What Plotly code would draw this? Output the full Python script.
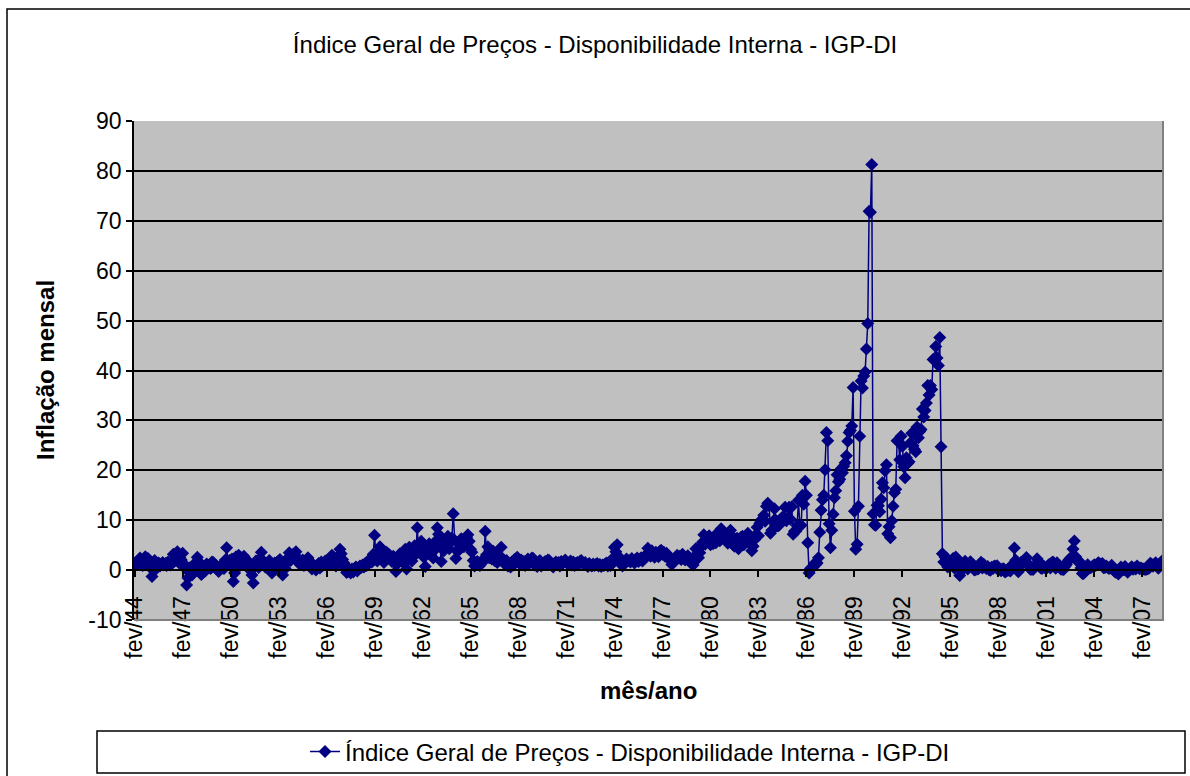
import plotly.graph_objects as go

# ---------------- data (monthly IGP-DI, % per month) ----------------
month_abbr = ["jan", "fev", "mar", "abr", "mai", "jun", "jul", "ago", "set", "out", "nov", "dez"]
first_year, first_month = 1944, 2   # fev/44
last_year, last_month = 2008, 5     # mai/08

v1944 = [1.3, 1.5, 1.2, 1.8, 2.4, 1.6, 0.9, 2.1, 2.7, 1.4, 2.3]  # fev-dez
v1945 = [1.8, 0.4, -1.3, 0.6, 1.9, 0.2, 1.1, 1.4, 0.8, 1.2, 1.5, 1.0]
v1946 = [1.3, 0.9, 1.6, 1.2, 1.0, 1.4, 3.2, 1.8, 2.6, 3.7, 1.5, 2.4]
v1947 = [2.0, 3.4, 1.2, 0.3, -3.0, -1.6, 0.4, -0.2, -1.0, 0.8, 1.3, 0.2]
v1948 = [2.6, 1.7, 0.3, -0.9, -0.6, 0.1, -0.2, 1.2, 0.5, 0.9, 0.3, 1.6]
v1949 = [1.5, 0.6, 0.9, 0.2, -0.3, 0.7, 0.4, 1.1, 0.3, 2.0, 4.5, 1.3]
v1950 = [1.9, 0.8, 2.2, -2.3, -0.6, 2.7, 1.4, 3.0, 0.9, 2.4, 1.2, 2.8]
v1951 = [2.2, 1.0, 0.4, 1.5, 0.8, -1.0, -2.6, 0.6, 1.8, 1.2, 0.5, 2.3]
v1952 = [3.6, 1.1, 1.7, 0.6, 0.9, 1.3, 1.9, 0.7, -0.6, 0.4, 1.4, 0.8]
v1953 = [1.6, 0.5, 2.1, 0.9, -1.0, 1.2, 0.3, 1.5, 2.4, 3.5, 1.9, 2.6]
v1954 = [3.2, 2.4, 3.7, 1.8, 2.2, 1.1, 1.6, 2.0, 0.9, 1.3, 1.7, 2.5]
v1955 = [1.4, 0.8, 0.2, 1.1, 0.5, 0.0, 0.7, 1.3, 0.4, 1.6, 0.9, 1.2]
v1956 = [1.8, 0.9, 1.5, 2.2, 1.2, 3.0, 1.6, 2.4, 0.8, 1.9, 2.7, 4.2]
v1957 = [3.3, 2.1, 1.4, 0.5, -0.5, -0.3, 0.1, -0.6, 0.2, -0.4, 0.3, 0.6]
v1958 = [-0.2, 0.4, 0.8, 0.5, 1.0, 0.6, 1.3, 0.9, 1.8, 1.4, 2.1, 1.6]
v1959 = [3.2, 7.0, 2.6, 1.8, 3.4, 4.7, 2.2, 3.8, 1.5, 2.9, 3.6, 2.4]
v1960 = [3.1, 2.3, 1.7, 2.8, 1.4, -0.3, 1.2, 2.5, 3.3, 2.0, 1.6, 3.8]
v1961 = [4.2, 0.2, 2.1, 4.6, 3.0, 1.8, 2.7, 4.9, 3.4, 8.5, 4.0, 5.2]
v1962 = [5.8, 3.5, 2.6, 0.7, 3.9, 4.4, 5.3, 3.1, 4.6, 2.4, 5.6, 4.3]
v1963 = [8.5, 7.2, 5.1, 1.7, 4.8, 3.9, 6.1, 5.4, 6.8, 4.3, 5.7, 6.4]
v1964 = [11.3, 6.0, 2.3, 3.8, 5.5, 4.2, 6.3, 5.1, 4.7, 5.9, 6.6, 7.1]
v1965 = [5.8, 4.2, 3.6, 1.9, 0.8, 1.2, 1.7, 1.4, 0.9, 1.6, 2.0, 1.8]
v1966 = [7.8, 3.1, 4.7, 2.5, 3.4, 2.2, 3.8, 1.9, 2.6, 1.5, 1.9, 2.7]
v1967 = [4.6, 2.3, 1.4, 1.1, 1.9, 0.8, 1.2, 0.6, 1.6, 1.0, 2.1, 1.5]
v1968 = [2.6, 1.8, 1.2, 2.0, 1.4, 1.7, 0.9, 1.5, 2.2, 1.3, 1.8, 2.4]
v1969 = [2.3, 1.0, 1.6, 0.7, 1.2, 1.9, 0.8, 1.1, 1.4, 1.7, 1.2, 2.0]
v1970 = [1.9, 1.4, 0.9, 0.6, 1.3, 1.6, 1.1, 1.5, 0.8, 1.7, 1.3, 1.6]
v1971 = [2.0, 1.5, 1.2, 1.4, 1.8, 1.0, 1.6, 0.9, 1.3, 1.5, 1.1, 1.7]
v1972 = [1.9, 1.4, 1.2, 1.5, 1.1, 0.7, 1.3, 1.0, 0.8, 1.2, 0.9, 1.1]
v1973 = [1.3, 0.8, 1.1, 0.7, 1.0, 0.9, 1.2, 1.4, 0.8, 1.1, 0.9, 1.3]
v1974 = [2.4, 4.6, 3.7, 5.1, 2.8, 1.6, 1.4, 0.8, 1.7, 1.5, 2.2, 1.9]
v1975 = [1.8, 1.6, 2.3, 1.9, 1.4, 2.1, 2.4, 1.7, 2.0, 2.5, 1.8, 2.2]
v1976 = [2.9, 3.1, 4.4, 3.5, 2.8, 3.9, 3.3, 2.6, 3.6, 3.0, 2.7, 3.8]
v1977 = [4.0, 3.2, 3.6, 2.8, 3.4, 2.9, 2.3, 1.9, 1.1, 1.6, 2.2, 2.0]
v1978 = [3.0, 2.4, 2.8, 2.1, 3.2, 2.7, 2.0, 2.5, 2.9, 2.3, 1.8, 1.2]
v1979 = [1.0, 2.8, 4.3, 3.1, 2.5, 3.5, 4.8, 5.6, 7.1, 5.2, 5.8, 6.4]
v1980 = [6.9, 5.1, 6.2, 5.3, 5.7, 5.5, 7.4, 6.3, 5.9, 8.3, 6.7, 6.5]
v1981 = [7.2, 6.3, 5.4, 6.5, 8.0, 6.9, 5.1, 4.8, 5.6, 6.4, 4.3, 5.9]
v1982 = [6.6, 6.8, 5.1, 5.7, 6.3, 7.4, 6.0, 5.2, 3.9, 4.8, 6.1, 7.1]
v1983 = [8.6, 6.9, 9.4, 9.7, 10.3, 11.0, 9.8, 12.8, 13.4, 12.9, 7.4, 8.0]
v1984 = [9.8, 12.3, 10.0, 8.9, 8.9, 9.2, 10.3, 10.6, 10.5, 12.6, 9.9, 10.5]
v1985 = [12.6, 10.2, 12.7, 7.2, 7.8, 7.8, 8.9, 14.0, 9.1, 9.0, 15.0, 13.2]
v1986 = [17.8, 15.0, 5.5, -0.6, 0.3, 0.5, 0.6, 1.3, 1.1, 1.4, 2.5, 7.6]
v1987 = [12.0, 14.1, 15.0, 20.1, 27.6, 25.9, 9.3, 4.5, 8.0, 11.2, 14.5, 15.9]
v1988 = [19.1, 17.7, 18.2, 20.3, 19.5, 20.8, 21.5, 22.9, 25.8, 27.6, 28.0, 28.9]
v1989 = [36.6, 11.8, 4.2, 5.2, 12.8, 26.8, 37.9, 36.5, 38.9, 39.7, 44.3, 49.4]
v1990 = [71.9, 71.7, 81.3, 11.3, 9.1, 9.0, 13.0, 12.9, 11.7, 14.2, 17.5, 16.5]
v1991 = [19.9, 21.1, 7.3, 8.7, 6.5, 9.9, 12.8, 15.5, 16.2, 25.9, 25.8, 22.1]
v1992 = [26.8, 24.8, 20.7, 18.5, 22.5, 21.4, 21.7, 25.5, 27.4, 24.9, 24.2, 23.7]
v1993 = [28.7, 26.5, 27.8, 28.2, 32.3, 30.7, 32.0, 33.5, 37.0, 35.1, 37.0, 36.2]
v1994 = [42.2, 42.4, 44.8, 42.5, 41.0, 46.6, 24.7, 3.3, 1.6, 2.6, 2.5, 0.6]
v1995 = [1.36, 1.15, 1.81, 2.30, 0.40, 2.62, 2.24, 1.29, -1.08, 0.23, 1.33, 0.27]
v1996 = [1.79, 0.76, 0.22, 0.70, 1.68, 1.22, 1.09, 0.00, 0.13, 0.22, 0.28, 0.88]
v1997 = [1.58, 0.42, 1.16, 0.59, 0.30, 0.70, 0.09, -0.04, 0.59, 0.34, 0.83, 0.69]
v1998 = [0.88, 0.02, 0.23, -0.13, 0.23, 0.28, -0.38, -0.17, -0.02, -0.03, -0.18, 0.98]
v1999 = [1.15, 4.44, 1.98, 0.03, -0.34, 1.02, 1.59, 1.45, 1.47, 1.89, 2.53, 1.23]
v2000 = [1.02, 0.19, 0.18, 0.13, 0.67, 0.93, 2.26, 1.82, 0.69, 0.37, 0.39, 0.76]
v2001 = [0.49, 0.34, 0.80, 1.13, 0.44, 1.46, 1.62, 0.90, 0.38, 1.45, 0.76, 0.74]
v2002 = [0.19, 0.18, 0.11, 0.70, 1.11, 1.74, 2.05, 2.36, 2.64, 4.21, 5.84, 2.70]
v2003 = [2.17, 1.59, 1.66, 0.41, -0.67, -0.70, -0.20, 0.62, 1.05, 0.44, 0.48, 0.60]
v2004 = [0.80, 1.08, 0.93, 1.15, 1.46, 1.29, 1.14, 1.31, 0.48, 0.53, 0.82, 0.52]
v2005 = [0.33, 0.40, 0.99, 0.51, -0.25, -0.45, -0.40, -0.79, -0.13, 0.63, 0.33, 0.07]
v2006 = [0.72, -0.06, -0.45, 0.02, 0.38, 0.67, 0.17, 0.41, 0.24, 0.81, 0.57, 0.26]
v2007 = [0.43, 0.23, 0.22, 0.14, 0.16, 0.26, 0.37, 1.39, 1.17, 0.75, 1.05, 1.47]
v2008 = [0.99, 0.38, 0.70, 1.12, 1.88]  # jan-mai

yearly = [v1944, v1945, v1946, v1947, v1948, v1949, v1950, v1951, v1952, v1953,
          v1954, v1955, v1956, v1957, v1958, v1959, v1960, v1961, v1962, v1963,
          v1964, v1965, v1966, v1967, v1968, v1969, v1970, v1971, v1972, v1973,
          v1974, v1975, v1976, v1977, v1978, v1979, v1980, v1981, v1982, v1983,
          v1984, v1985, v1986, v1987, v1988, v1989, v1990, v1991, v1992, v1993,
          v1994, v1995, v1996, v1997, v1998, v1999, v2000, v2001, v2002, v2003,
          v2004, v2005, v2006, v2007, v2008]

tick_labels = ["fev/44", "fev/47", "fev/50", "fev/53", "fev/56", "fev/59", "fev/62",
               "fev/65", "fev/68", "fev/71", "fev/74", "fev/77", "fev/80", "fev/83",
               "fev/86", "fev/89", "fev/92", "fev/95", "fev/98", "fev/01", "fev/04",
               "fev/07"]
y_ticks = [-10, 0, 10, 20, 30, 40, 50, 60, 70, 80, 90]
y_tick_text = ["-10", "0", "10", "20", "30", "40", "50", "60", "70", "80", "90"]

series_name = "Índice Geral de Preços - Disponibilidade Interna - IGP-DI"
title_text = "Índice Geral de Preços - Disponibilidade Interna - IGP-DI"
x_title = "mês/ano"
y_title = "Inflação mensal"

# ---------------- build categories ----------------
categories, values = [], []
for i, vals in enumerate(yearly):
    yr = first_year + i
    m0 = first_month if i == 0 else 1
    for k, v in enumerate(vals):
        categories.append(f"{month_abbr[m0 - 1 + k]}/{yr % 100:02d}")
        values.append(v)

# ---------------- layout geometry ----------------
W, H = 1190, 776
L, R, T, B = 134, 1163, 121, 620
pw, ph = R - L, B - T

def px(x):
    return (x - L) / pw

def py(y):
    return (B - y) / ph

NAVY = "#000080"
FONT = "Liberation Sans, Arial, sans-serif"

fig = go.Figure()
fig.add_trace(go.Scatter(
    x=categories, y=values, mode="lines+markers", name=series_name,
    line=dict(color=NAVY, width=1.5),
    marker=dict(symbol="diamond", size=10, color=NAVY, line=dict(width=0)),
    cliponaxis=True,
))

fig.update_layout(
    width=W, height=H, autosize=False,
    margin=dict(l=L, r=W - R, t=T, b=H - B, autoexpand=False),
    paper_bgcolor="white", plot_bgcolor="#C0C0C0",
    font=dict(family=FONT, color="black", size=23),
    title=dict(text=title_text, x=0.5, xref="container", xanchor="center",
               y=1 - 45 / H, yref="container", yanchor="middle",
               font=dict(size=24, family=FONT, color="black")),
    showlegend=True,
    legend=dict(orientation="h", xref="container", yref="container",
                x=630 / W, xanchor="center", y=1 - 752 / H, yanchor="middle",
                bgcolor="rgba(0,0,0,0)", borderwidth=0,
                font=dict(size=24, family=FONT, color="black")),
    xaxis=dict(type="category", range=[-0.5, len(categories) - 0.5],
               tickmode="array", tickvals=tick_labels, ticktext=tick_labels,
               tickangle=-90, ticks="outside", ticklen=6, tickcolor="black", tickwidth=1.5,
               showgrid=False, showline=True, linecolor="black", linewidth=1.6,
               anchor="free", position=0.1, ticklabelstandoff=10, automargin=False,
               tickfont=dict(size=23, family=FONT, color="black")),
    yaxis=dict(range=[-10, 90], tickmode="array", tickvals=y_ticks, ticktext=y_tick_text,
               ticks="outside", ticklen=6, tickcolor="black", tickwidth=1.5,
               showgrid=True, gridcolor="black", gridwidth=1.6, zeroline=False,
               showline=True, linecolor="black", linewidth=1.6, automargin=False,
               tickfont=dict(size=23, family=FONT, color="black")),
)

shapes = [
    # outer chart border
    dict(type="rect", xref="paper", yref="paper", x0=px(7), y0=py(H + 10), x1=px(W + 10), y1=py(9),
         line=dict(color="black", width=1.5), fillcolor="rgba(0,0,0,0)", layer="below"),
    # plot area right/bottom grey edge
    dict(type="path", xref="paper", yref="paper",
         path=f"M {px(L)} {py(B)} L {px(R)} {py(B)} L {px(R)} {py(T)}",
         line=dict(color="#808080", width=2), layer="above"),
    # legend box
    dict(type="rect", xref="paper", yref="paper", x0=px(97), y0=py(773), x1=px(1185), y1=py(731),
         line=dict(color="black", width=1.5), fillcolor="white", layer="below"),
]
fig.update_layout(shapes=shapes)

fig.add_annotation(text=f"<b>{y_title}</b>", xref="paper", yref="paper",
                   x=px(45), y=py(370), textangle=-90, showarrow=False,
                   xanchor="center", yanchor="middle",
                   font=dict(size=24, family=FONT, color="black"))
fig.add_annotation(text=f"<b>{x_title}</b>", xref="paper", yref="paper",
                   x=px(648), y=py(690), showarrow=False,
                   xanchor="center", yanchor="middle",
                   font=dict(size=24, family=FONT, color="black"))

fig.write_html("out.html", config={"displayModeBar": False, "responsive": False},
               post_script="document.body.style.margin='0px';")
